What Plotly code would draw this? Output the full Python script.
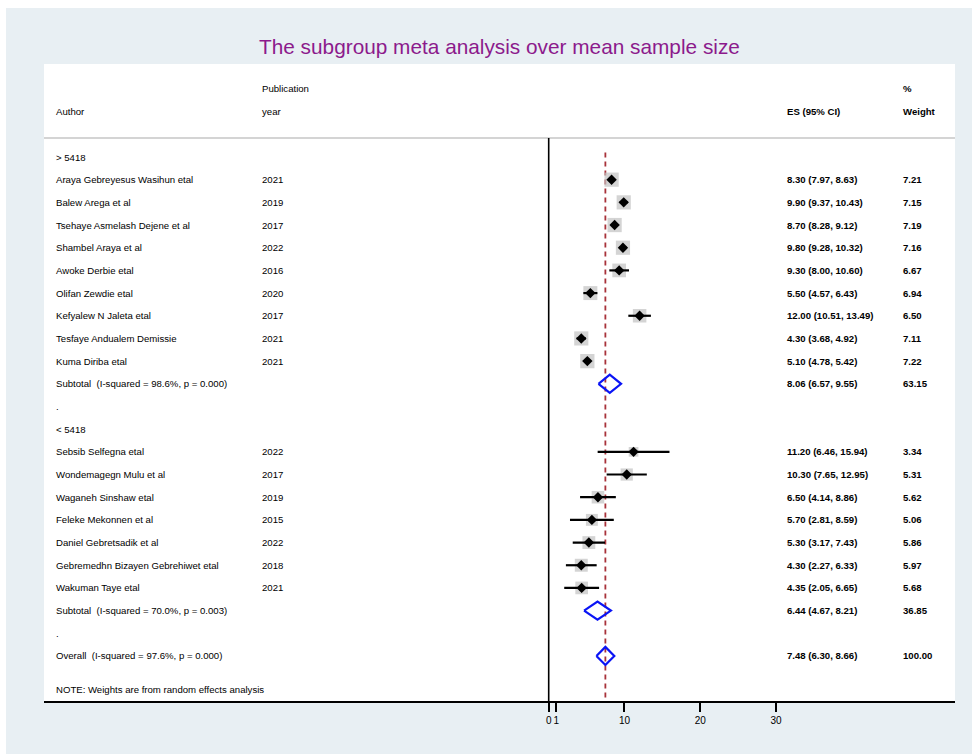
import plotly.graph_objects as go

# ---- data -------------------------------------------------------------
g1_authors = ["Araya Gebreyesus Wasihun etal", "Balew Arega et al", "Tsehaye Asmelash Dejene et al",
              "Shambel Araya et al", "Awoke Derbie etal", "Olifan Zewdie etal",
              "Kefyalew N Jaleta etal", "Tesfaye Andualem Demissie", "Kuma Diriba etal"]
g1_years = ["2021", "2019", "2017", "2022", "2016", "2020", "2017", "2021", "2021"]
g1_es = [8.30, 9.90, 8.70, 9.80, 9.30, 5.50, 12.00, 4.30, 5.10]
g1_lo = [7.97, 9.37, 8.28, 9.28, 8.00, 4.57, 10.51, 3.68, 4.78]
g1_hi = [8.63, 10.43, 9.12, 10.32, 10.60, 6.43, 13.49, 4.92, 5.42]
g1_wt = [7.21, 7.15, 7.19, 7.16, 6.67, 6.94, 6.50, 7.11, 7.22]

g2_authors = ["Sebsib Selfegna etal", "Wondemagegn Mulu et al", "Waganeh Sinshaw etal",
              "Feleke Mekonnen et al", "Daniel Gebretsadik et al",
              "Gebremedhn Bizayen Gebrehiwet etal", "Wakuman Taye etal"]
g2_years = ["2022", "2017", "2019", "2015", "2022", "2018", "2021"]
g2_es = [11.20, 10.30, 6.50, 5.70, 5.30, 4.30, 4.35]
g2_lo = [6.46, 7.65, 4.14, 2.81, 3.17, 2.27, 2.05]
g2_hi = [15.94, 12.95, 8.86, 8.59, 7.43, 6.33, 6.65]
g2_wt = [3.34, 5.31, 5.62, 5.06, 5.86, 5.97, 5.68]

group_labels = ["> 5418", "< 5418"]
subtotal_labels = ["Subtotal  (I-squared = 98.6%, p = 0.000)",
                   "Subtotal  (I-squared = 70.0%, p = 0.003)"]
subtotal_es = [8.06, 6.44]
subtotal_lo = [6.57, 4.67]
subtotal_hi = [9.55, 8.21]
subtotal_wt = [63.15, 36.85]

overall_label = "Overall  (I-squared = 97.6%, p = 0.000)"
overall_es, overall_lo, overall_hi, overall_wt = 7.48, 6.30, 8.66, 100.00

tick_vals = [0, 1, 10, 20, 30]
tick_text = ["0", "1", "10", "20", "30"]

title_text = "The subgroup meta analysis over mean sample size"
note_text = "NOTE: Weights are from random effects analysis"

# ---- page geometry ----------------------------------------------------
W, H = 972, 754
FONT = "Liberation Sans, Arial, Helvetica, sans-serif"
TXT = 9.6


def px(x):
    return x / W


def py(y):
    return 1 - y / H


PANEL_L, PANEL_R, PANEL_T, PANEL_B = 44, 955, 64, 701
ZERO_PX, UNIT_PX = 548.7, 7.577          # horizontal scale of the effect axis
ROW0_PX, ROW_PX = 157, 22.68             # vertical row pitch

x_range = [(PANEL_L - ZERO_PX) / UNIT_PX, (PANEL_R - ZERO_PX) / UNIT_PX]
y_range = [(PANEL_B - ROW0_PX) / ROW_PX, (PANEL_T - ROW0_PX) / ROW_PX]

COL_AUTHOR, COL_YEAR, COL_ES, COL_WT = px(54), px(260), px(785), px(901)

# ---- row layout -------------------------------------------------------
rows = []  # (row, kind, label, year, es, lo, hi, wt)
r = 0
groups = [(g1_authors, g1_years, g1_es, g1_lo, g1_hi, g1_wt),
          (g2_authors, g2_years, g2_es, g2_lo, g2_hi, g2_wt)]
for g, (auth, yrs, es, lo, hi, wt) in enumerate(groups):
    rows.append((r, "group", group_labels[g], "", None, None, None, None))
    r += 1
    for i in range(len(auth)):
        rows.append((r, "study", auth[i], yrs[i], es[i], lo[i], hi[i], wt[i]))
        r += 1
    rows.append((r, "subtotal", subtotal_labels[g], "", subtotal_es[g],
                 subtotal_lo[g], subtotal_hi[g], subtotal_wt[g]))
    r += 1
    rows.append((r, "dot", ".", "", None, None, None, None))
    r += 1
rows.append((r, "overall", overall_label, "", overall_es, overall_lo, overall_hi, overall_wt))
note_row = r + 1.5

fig = go.Figure()

# study weight boxes
studies = [row for row in rows if row[1] == "study"]
fig.add_trace(go.Scatter(
    x=[s[4] for s in studies], y=[s[0] for s in studies], mode="markers",
    marker=dict(symbol="square", color="#c2c2c2",
                size=[5.3 * (s[7] ** 0.5) for s in studies], line=dict(width=0)),
    hoverinfo="skip", showlegend=False))

# confidence intervals
ci_x, ci_y = [], []
for s in studies:
    ci_x += [s[5], s[6], None]
    ci_y += [s[0], s[0], None]
fig.add_trace(go.Scatter(x=ci_x, y=ci_y, mode="lines",
                         line=dict(color="black", width=2.2),
                         hoverinfo="skip", showlegend=False))

# point estimates
fig.add_trace(go.Scatter(
    x=[s[4] for s in studies], y=[s[0] for s in studies], mode="markers",
    marker=dict(symbol="diamond", color="black", size=8, line=dict(width=0)),
    hoverinfo="skip", showlegend=False))

# pooled estimates as diamonds
HALF = 0.4
for row in rows:
    if row[1] in ("subtotal", "overall"):
        rr, es, lo, hi = row[0], row[4], row[5], row[6]
        fig.add_trace(go.Scatter(
            x=[lo, es, hi, es, lo], y=[rr, rr - HALF, rr, rr + HALF, rr],
            mode="lines", line=dict(color="#0a14f5", width=2.2),
            hoverinfo="skip", showlegend=False))

# text columns
ann = []


def add_text(x, y, text, bold=False):
    ann.append(dict(x=x, y=y, xref="paper", yref="y", text=("<b>%s</b>" % text) if bold else text,
                    xanchor="left", yanchor="middle", showarrow=False,
                    font=dict(family=FONT, size=TXT, color="black")))


add_text(COL_YEAR, -3, "Publication")
add_text(COL_AUTHOR, -2, "Author")
add_text(COL_YEAR, -2, "year")
add_text(COL_ES, -2, "ES (95% CI)", bold=True)
add_text(COL_WT, -3, "%", bold=True)
add_text(COL_WT, -2, "Weight", bold=True)

for row in rows:
    rr, kind, label, year = row[0], row[1], row[2], row[3]
    add_text(COL_AUTHOR, rr, label)
    if year:
        add_text(COL_YEAR, rr, year)
    if kind in ("study", "subtotal", "overall"):
        add_text(COL_ES, rr, "%.2f (%.2f, %.2f)" % (row[4], row[5], row[6]), bold=True)
        add_text(COL_WT, rr, "%.2f" % row[7], bold=True)

add_text(COL_AUTHOR, note_row, note_text)

ann.append(dict(x=(px(PANEL_L) + px(PANEL_R)) / 2, y=py(47), xref="paper", yref="paper",
                text=title_text, showarrow=False, xanchor="center", yanchor="middle",
                font=dict(family=FONT, size=20.8, color="#8c1a8c")))

shapes = [
    # outer graph region
    dict(type="rect", xref="paper", yref="paper", x0=px(6), x1=1, y0=0, y1=py(8),
         fillcolor="#e8eff3", line=dict(width=0), layer="below"),
    # inner white panel
    dict(type="rect", xref="paper", yref="paper", x0=px(PANEL_L), x1=px(PANEL_R),
         y0=py(PANEL_B), y1=py(PANEL_T), fillcolor="white", line=dict(width=0), layer="below"),
    # header separator
    dict(type="line", xref="paper", yref="y", x0=px(PANEL_L), x1=px(PANEL_R),
         y0=-0.84, y1=-0.84, line=dict(color="#c6c6c6", width=1.5)),
    # no-effect line
    dict(type="line", xref="x", yref="y", x0=0, x1=0, y0=-0.84, y1=y_range[0],
         line=dict(color="black", width=1.6)),
    # overall effect line
    dict(type="line", xref="x", yref="y", x0=overall_es, x1=overall_es, y0=-0.2, y1=y_range[0],
         line=dict(color="#a8323a", width=1.8, dash="5px,4px"), layer="below"),
]

fig.update_layout(
    width=W, height=H, margin=dict(l=0, r=0, t=0, b=0),
    paper_bgcolor="white", plot_bgcolor="rgba(0,0,0,0)",
    showlegend=False, annotations=ann, shapes=shapes,
    xaxis=dict(domain=[px(PANEL_L), px(PANEL_R)], range=x_range, showgrid=False,
               zeroline=False, showline=True, linecolor="black", linewidth=2,
               ticks="outside", ticklen=9, tickwidth=2, tickcolor="black",
               tickvals=tick_vals, ticktext=tick_text, tickangle=0,
               tickfont=dict(family=FONT, size=10, color="black"), fixedrange=True),
    yaxis=dict(domain=[py(PANEL_B), py(PANEL_T)], range=y_range, visible=False,
               fixedrange=True),
)

fig.write_html("out.html")
